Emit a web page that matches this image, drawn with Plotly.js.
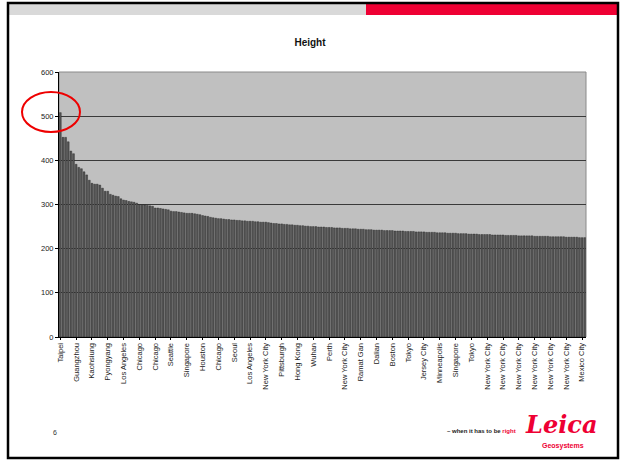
<!DOCTYPE html>
<html>
<head>
<meta charset="utf-8">
<script src="https://cdn.plot.ly/plotly-3.0.1.min.js"></script>
<style>
html,body{margin:0;padding:0;background:#fff;}
#chart{width:620px;height:461px;}
</style>
</head>
<body>
<div id="chart"></div>
<script>
// Building heights (m), sorted descending, 200 buildings
const heights = [
508,452,452,442,421,415,391,384,381,374,
367,355,348,346,346,344,337,330,330,323,
321,319,318,313,310,309,307,306,305,303,
300,300,299,298,297,296,292,292,291,290,
289,288,285,284,284,283,282,281,280,280,
280,279,278,277,275,274,273,271,270,269,
268,268,267,266,266,265,265,264,264,263,
263,262,262,262,261,261,260,260,260,259,
258,257,257,256,256,255,255,254,254,253,
253,252,252,251,251,250,250,250,249,249,
249,248,248,248,247,247,247,246,246,246,
245,245,245,244,244,244,243,243,243,242,
242,242,242,241,241,241,241,240,240,240,
240,239,239,239,239,238,238,238,238,237,
237,237,237,236,236,236,236,235,235,235,
235,234,234,234,234,233,233,233,233,232,
232,232,232,232,231,231,231,231,231,230,
230,230,230,230,229,229,229,229,229,229,
228,228,228,228,228,228,227,227,227,227,
227,227,226,226,226,226,226,225,225,225
];
// Labelled categories (every 6th bar)
const labelIndex = [0,6,12,18,24,30,36,42,48,54,60,66,72,78,84,90,96,102,108,114,120,126,132,138,144,150,156,162,168,174,180,186,192,198];
const labelText = ["Taipei","Guangzhou","Kaohsiung","Pyongyang","Los Angeles","Chicago","Chicago","Seattle","Singapore","Houston","Chicago","Seoul","Los Angeles","New York City","Pittsburgh","Hong Kong","Wuhan","Perth","New York City","Ramat Gan","Dalian","Boston","Tokyo","Jersey City","Minneapolis","Singapore","Tokyo","New York City","New York City","New York City","New York City","New York City","New York City","Mexico City"];
const yTicks = [0,100,200,300,400,500,600];

const xIdx = heights.map((_, i) => i);

// pixel -> paper helpers for decorations
const L = 59, R = 586, T = 72, B = 337;
const px = x => (x - L) / (R - L);
const py = y => (B - y) / (B - T);

const trace = {
  type: 'bar',
  x: xIdx,
  y: heights,
  marker: {color: '#555555', line: {color: '#222222', width: 0.4}},
  hoverinfo: 'y'
};

const layout = {
  width: 620, height: 461,
  margin: {l: L, r: 620 - R, t: T, b: 461 - B, pad: 0},
  paper_bgcolor: '#ffffff',
  plot_bgcolor: '#c0c0c0',
  bargap: 0.3,
  showlegend: false,
  font: {family: 'Liberation Sans, Arial, sans-serif', color: '#000'},
  title: {text: '<b>Height</b>', font: {size: 10, color: '#111'}, x: 0.5, xanchor: 'center', y: 1 - 42/461, yanchor: 'middle'},
  xaxis: {
    range: [-0.5, heights.length - 0.5],
    tickmode: 'array', tickvals: labelIndex, ticktext: labelText,
    tickangle: -90, tickfont: {size: 7.5, color: '#222'},
    ticks: 'outside', ticklen: 2, tickcolor: '#000',
    showline: true, linecolor: '#000', linewidth: 1,
    showgrid: false, zeroline: false, mirror: false
  },
  yaxis: {
    range: [0, 600],
    tickmode: 'array', tickvals: yTicks,
    tickfont: {size: 7.5, color: '#222'},
    ticks: 'outside', ticklen: 3, tickcolor: '#000',
    showline: true, linecolor: '#000', linewidth: 1,
    showgrid: true, gridcolor: '#3a3a3a', gridwidth: 1,
    zeroline: false
  },
  shapes: [
    // plot border top/right
    {type:'rect', xref:'paper', yref:'paper', x0:0, x1:1, y0:0, y1:1, line:{color:'#8a8a8a', width:1}, layer:'below'},
    // slide header bars
    {type:'rect', xref:'paper', yref:'paper', x0:px(9), x1:px(366), y0:py(15), y1:py(4), fillcolor:'#d9d9d9', line:{width:0}},
    {type:'rect', xref:'paper', yref:'paper', x0:px(366), x1:px(617), y0:py(15), y1:py(4), fillcolor:'#ee0033', line:{width:0}},
    // slide frame
    {type:'rect', xref:'paper', yref:'paper', x0:px(8), x1:px(618), y0:py(458), y1:py(3), line:{color:'#000', width:2.5}},
    // red circle highlight
    {type:'circle', xref:'paper', yref:'paper', x0:px(22), x1:px(80), y0:py(132), y1:py(92), line:{color:'#ee0000', width:2}}
  ],
  annotations: [
    {xref:'paper', yref:'paper', x:px(55), y:py(432), text:'6', showarrow:false, font:{size:7, color:'#333'}, xanchor:'center', yanchor:'middle'},
    {xref:'paper', yref:'paper', x:px(518), y:py(431), text:'<b>– when it has to be </b><b><span style="color:#ee0033">right</span></b>', showarrow:false, font:{size:6, color:'#222'}, xanchor:'right', yanchor:'middle'},
    {xref:'paper', yref:'paper', x:px(561), y:py(424), text:'<b><i>Leica</i></b>', showarrow:false, font:{size:24, color:'#ee0033', family:'DejaVu Serif, serif'}, xanchor:'center', yanchor:'middle'},
    {xref:'paper', yref:'paper', x:px(563), y:py(446), text:'<b>Geosystems</b>', showarrow:false, font:{size:7, color:'#ee0033'}, xanchor:'center', yanchor:'middle'}
  ]
};

Plotly.newPlot('chart', [trace], layout, {displayModeBar: false, staticPlot: true});
</script>
</body>
</html>
